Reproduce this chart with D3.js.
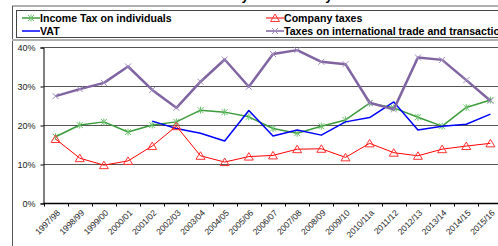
<!DOCTYPE html>
<html lang="en">
<head>
  <meta charset="UTF-8">
  <title>Tax shares by source and year</title>
  <script src="https://d3js.org/d3.v7.min.js"></script>
  <style>
    body { margin: 0; background: #fff; }
    svg { display: block; font-family: "Liberation Sans", Arial, sans-serif; }
    .legend text { font-size: 10.6px; font-weight: bold; fill: #000; }
    .axis text { font-size: 9px; fill: #222; }
    .xaxis text { font-size: 8.5px; }
  </style>
</head>
<body>
  <div id="chart"></div>

  <script>
    const years = ["1997/98", "1998/99", "1999/00", "2000/01", "2001/02", "2002/03", "2003/04",
      "2004/05", "2005/06", "2006/07", "2007/08", "2008/09", "2009/10", "2010/11a",
      "2011/12", "2012/13", "2013/14", "2014/15", "2015/16"];

    const incomeTax = [17.0, 20.0, 20.8, 18.2, 20.0, 20.8, 23.8, 23.3, 22.1, 19.1,
      17.9, 19.7, 21.3, 25.6, 24.4, 22.0, 19.7, 24.5, 26.4];
    const vat = [null, null, null, null, 21.0, 19.1, 17.9, 15.9, 23.7, 17.2,
      18.7, 17.4, 20.8, 21.9, 25.9, 18.7, 19.7, 20.2, 22.8];
    const companyTax = [16.4, 11.5, 9.7, 10.8, 14.6, 19.7, 12.1, 10.5, 11.9, 12.2,
      13.8, 13.9, 11.7, 15.3, 12.9, 12.1, 13.8, 14.6, 15.3];
    const tradeTax = [27.4, 29.2, 30.8, 35.0, 29.0, 24.4, 31.1, 36.8, 29.8, 38.2,
      39.2, 36.2, 35.6, 25.7, 24.0, 37.3, 36.7, 31.5, 26.2];

    const yTicks = [0, 10, 20, 30, 40];

    const series = [
      { name: "Income Tax on individuals", values: incomeTax, color: "#3c9c3c", mark: "#6cc06c", width: 1.5, marker: "star" },
      { name: "VAT", values: vat, color: "#0000ff", mark: null, width: 1.5, marker: "none" },
      { name: "Company taxes", values: companyTax, color: "#ff0000", mark: "#ff3333", width: 1, marker: "tri" },
      { name: "Taxes on international trade and transactions", values: tradeTax, color: "#8064a2", mark: "#a08cc0", width: 2.5, marker: "cross" }
    ];

    const W = 498, H = 246;
    const svg = d3.select("#chart").append("svg").attr("width", W).attr("height", H);

    // title, mostly clipped off the top of the frame
    svg.append("text")
      .attr("x", 163).attr("y", 0)
      .style("font-size", "13px").style("font-weight", "bold")
      .text("Tax shares by source and year");

    // outer frame
    svg.append("line").attr("x1", 12).attr("x2", W).attr("y1", 6).attr("y2", 6)
      .attr("stroke", "#b0b0b0").attr("stroke-width", 2);
    svg.append("line").attr("x1", 12.5).attr("x2", 12.5).attr("y1", 6).attr("y2", H)
      .attr("stroke", "#555");

    // legend box
    svg.append("rect").attr("x", 16.5).attr("y", 10.5).attr("width", W).attr("height", 27)
      .attr("fill", "#fff").attr("stroke", "#444");
    svg.append("line").attr("x1", 12).attr("x2", W).attr("y1", 40).attr("y2", 40)
      .attr("stroke", "#b0b0b0").attr("stroke-width", 2);

    const x = d3.scaleBand().domain(years).range([43.5, 502.5]);
    const y = d3.scaleLinear().domain([0, 40]).range([203, 47]);

    const g = svg.append("g");

    // gridlines
    g.selectAll(".grid").data(yTicks.filter(d => d > 0)).enter().append("line")
      .attr("x1", 43.5).attr("x2", W)
      .attr("y1", d => Math.round(y(d)) + 0.5).attr("y2", d => Math.round(y(d)) + 0.5)
      .attr("stroke", "#555");

    // y axis
    const yAxis = g.append("g").attr("class", "axis")
      .attr("transform", "translate(43.5,0.5)")
      .call(d3.axisLeft(y).tickValues(yTicks).tickSize(3).tickPadding(5).tickFormat(d => d + "%"));
    yAxis.select(".domain").attr("stroke", "#000");
    yAxis.selectAll(".tick line").attr("stroke", "#000");

    // x axis: ticks between categories
    const xAxis = g.append("g").attr("class", "axis xaxis")
      .attr("transform", "translate(0,203.5)");
    xAxis.append("line").attr("x1", 43.5).attr("x2", W).attr("stroke", "#000").attr("stroke-width", 1.5);
    xAxis.selectAll(".tk").data(years).enter().append("line")
      .attr("x1", d => Math.round(x(d)) + 0.5).attr("x2", d => Math.round(x(d)) + 0.5)
      .attr("y1", 0).attr("y2", 3).attr("stroke", "#000");
    xAxis.selectAll("text").data(years).enter().append("text")
      .attr("transform", d => `translate(${x(d) + x.bandwidth() / 2 + 5},${10}) rotate(-45)`)
      .attr("text-anchor", "end")
      .text(d => d);

    const cx = d => x(d) + x.bandwidth() / 2;

    function drawMarker(sel, type, color, px, py) {
      if (type === "cross") {
        sel.append("path").attr("d", `M${px - 3},${py - 3}L${px + 3},${py + 3}M${px - 3},${py + 3}L${px + 3},${py - 3}`)
          .attr("stroke", color).attr("stroke-width", 1).attr("fill", "none");
      } else if (type === "star") {
        sel.append("path").attr("d", `M${px - 3},${py - 3}L${px + 3},${py + 3}M${px - 3},${py + 3}L${px + 3},${py - 3}M${px},${py - 3.5}L${px},${py + 3.5}`)
          .attr("stroke", color).attr("stroke-width", 1).attr("fill", "none");
      } else if (type === "tri") {
        sel.append("path").attr("d", `M${px},${py - 4}L${px + 4.5},${py + 3.5}L${px - 4.5},${py + 3.5}Z`)
          .attr("stroke", color).attr("stroke-width", 1).attr("fill", "none");
      }
    }

    const line = d3.line()
      .defined(d => d.v != null)
      .x(d => cx(d.year))
      .y(d => y(d.v));

    series.forEach(s => {
      const pts = years.map((yr, i) => ({ year: yr, v: s.values[i] }));
      g.append("path").datum(pts)
        .attr("fill", "none").attr("stroke", s.color).attr("stroke-width", s.width)
        .attr("stroke-linejoin", "round")
        .attr("d", line);
      pts.filter(p => p.v != null).forEach(p => drawMarker(g, s.marker, s.mark, cx(p.year), y(p.v)));
    });

    // legend
    const legend = svg.append("g").attr("class", "legend");
    const legendPos = [[22, 18], [22, 31], [266, 18], [266, 31]];
    series.forEach((s, i) => {
      const [lx, ly] = legendPos[i];
      legend.append("line").attr("x1", lx).attr("x2", lx + 18).attr("y1", ly).attr("y2", ly)
        .attr("stroke", s.color).attr("stroke-width", Math.min(s.width, 1.5));
      drawMarker(legend, s.marker, s.mark, lx + 9, ly);
      legend.append("text").attr("x", lx + 18).attr("y", ly + 3.5).text(s.name);
    });
  </script>
</body>
</html>
